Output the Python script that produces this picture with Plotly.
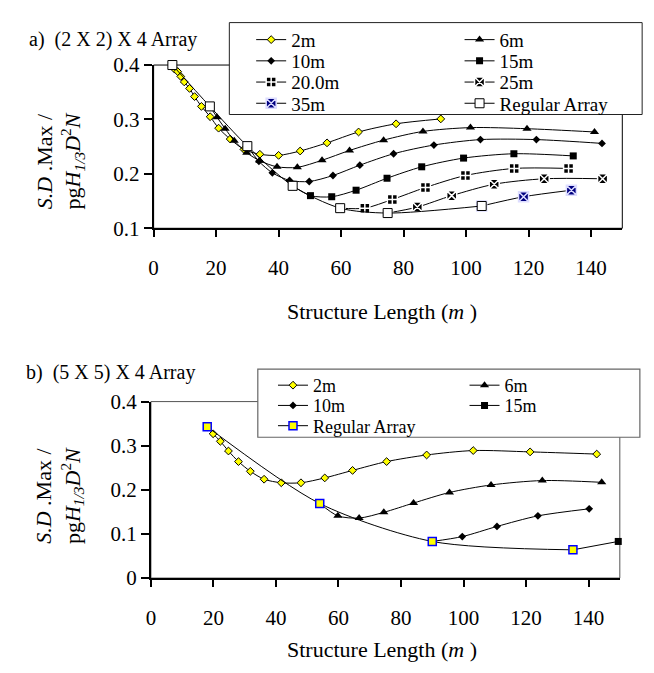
import plotly.graph_objects as go

W, H = 654, 673
FONT = "Liberation Serif"

# ---------------- data: a) (2 X 2) X 4 Array ----------------
A_2M_X = [6, 6.6, 7.7, 8.7, 9.8, 11.5, 13.1, 15.3, 18.1, 20.8, 24.5, 28.9, 34, 40, 46.9, 55.5, 65.6, 77.6, 91.9]
A_2M_Y = [0.4, 0.393, 0.388, 0.379, 0.369, 0.357, 0.342, 0.324, 0.305, 0.284, 0.264, 0.245, 0.236, 0.234, 0.242, 0.257, 0.277, 0.292, 0.301]
A_6M_X = [18, 20.3, 22.9, 25.8, 29.8, 34, 39.5, 46, 53.9, 62.7, 73.6, 86.2, 101.4, 119.5, 141.1]
A_6M_Y = [0.324, 0.304, 0.283, 0.261, 0.239, 0.224, 0.213, 0.212, 0.225, 0.243, 0.262, 0.278, 0.285, 0.283, 0.277]
A_10M_X = [30, 33.7, 38, 43.5, 49.8, 57.4, 66, 76.8, 89.7, 104.6, 122.5, 143.5]
A_10M_Y = [0.251, 0.223, 0.202, 0.188, 0.186, 0.197, 0.216, 0.237, 0.253, 0.263, 0.263, 0.256]
A_15M_X = [44.5, 50.2, 57, 64.8, 74.7, 85.8, 99.2, 115.3, 134.3]
A_15M_Y = [0.178, 0.160, 0.158, 0.170, 0.192, 0.213, 0.229, 0.237, 0.233]
A_20M_X = [59.7, 67.6, 76.4, 87, 99.8, 115.4, 132.8]
A_20M_Y = [0.137, 0.137, 0.153, 0.175, 0.197, 0.210, 0.210]
A_25M_X = [74.9, 84.4, 95.4, 109, 125, 143.7]
A_25M_Y = [0.128, 0.139, 0.160, 0.181, 0.191, 0.191]
A_35M_X = [105, 118.4, 133.7]
A_35M_Y = [0.141, 0.158, 0.170]
A_REG_X = [6, 18, 30, 44.5, 59.7, 74.9, 105]
A_REG_Y = [0.4, 0.324, 0.251, 0.178, 0.137, 0.128, 0.141]

# ---------------- data: b) (5 X 5) X 4 Array ----------------
B_2M_X = [18, 19.9, 22.2, 24.8, 28, 31.8, 36.2, 41.7, 48, 55.6, 64.5, 75.4, 88.2, 103.1, 121.3, 142.6]
B_2M_Y = [0.343, 0.327, 0.310, 0.288, 0.264, 0.242, 0.224, 0.216, 0.216, 0.227, 0.244, 0.264, 0.279, 0.289, 0.286, 0.281]
B_6M_X = [54, 59.8, 66.6, 74.5, 84, 95.5, 108.8, 125.2, 144.2]
B_6M_Y = [0.169, 0.141, 0.136, 0.149, 0.170, 0.194, 0.211, 0.221, 0.217]
B_10M_X = [90, 99.6, 110.7, 123.8, 140.2]
B_10M_Y = [0.083, 0.094, 0.117, 0.141, 0.157]
B_15M_X = [135, 149.5]
B_15M_Y = [0.064, 0.083]
B_REG_X = [18, 54, 90, 135]
B_REG_Y = [0.343, 0.169, 0.083, 0.064]

X_TICKS = [0, 20, 40, 60, 80, 100, 120, 140]
TITLE_A = "a)&nbsp; (2 X 2) X 4 Array"
TITLE_B = "b)&nbsp; (5 X 5) X 4 Array"
X_TITLE = "Structure Length (<i>m</i> )"
Y_TITLE = "<i>S.D</i> .Max /<br>pg<i>H</i><sub><i>1/3</i></sub><i>D</i><sup>2</sup><i>N</i>"


def px(v):
    return v / W


def py(v):
    return 1 - v / H


M_2M = dict(symbol="diamond", size=6, color="#FFFF00", line=dict(color="black", width=1))
M_6M = dict(symbol="triangle-up", size=8, color="black", line=dict(color="black", width=0))
M_10M = dict(symbol="diamond", size=6, color="black", line=dict(color="black", width=0))
M_15M = dict(symbol="square", size=7, color="black", line=dict(color="black", width=0))
M_20M = dict(symbol="square-cross", size=10, color="black", line=dict(color="white", width=1.5))
M_25M = dict(symbol="square-x", size=10, color="black", line=dict(color="white", width=1.5))
M_35M = dict(symbol="square-x", size=10, color="#000080", line=dict(color="#DDDDFF", width=1.5))
M_REG_A = dict(symbol="square", size=9, color="white", line=dict(color="black", width=1))
M_REG_B = dict(symbol="square", size=8, color="#FFFF00", line=dict(color="#0000FF", width=1.5))

# (name, x, y, marker, legend id, text x px, row y px, font size)
SER_A = [
    ("2m", A_2M_X, A_2M_Y, M_2M, "legend", 280, 20.5, 19),
    ("6m", A_6M_X, A_6M_Y, M_6M, "legend2", 490, 20.5, 19),
    ("10m", A_10M_X, A_10M_Y, M_10M, "legend3", 280, 42.5, 19),
    ("15m", A_15M_X, A_15M_Y, M_15M, "legend4", 490, 42.5, 19),
    ("20.0m", A_20M_X, A_20M_Y, M_20M, "legend5", 280, 64.5, 19),
    ("25m", A_25M_X, A_25M_Y, M_25M, "legend6", 490, 64.5, 19),
    ("35m", A_35M_X, A_35M_Y, M_35M, "legend7", 280, 86.5, 19),
    ("Regular Array", A_REG_X, A_REG_Y, M_REG_A, "legend8", 490, 86.5, 19),
]
SER_B = [
    ("2m", B_2M_X, B_2M_Y, M_2M, "legend9", 302, 379, 18),
    ("6m", B_6M_X, B_6M_Y, M_6M, "legend10", 495, 379, 18),
    ("10m", B_10M_X, B_10M_Y, M_10M, "legend11", 302, 400, 18),
    ("15m", B_15M_X, B_15M_Y, M_15M, "legend12", 495, 400, 18),
    ("Regular Array", B_REG_X, B_REG_Y, M_REG_B, "legend13", 302, 421, 18),
]

fig = go.Figure()
legends = {}
for series, xa, ya in ((SER_A, "x", "y"), (SER_B, "x2", "y2")):
    for name, xs, ys, mk, leg, tx, ty, fs in series:
        fig.add_trace(go.Scatter(
            x=xs, y=ys, name=name, mode="lines+markers",
            xaxis=xa, yaxis=ya, legend=leg, cliponaxis=False,
            line=dict(color="black", width=1, shape="spline", smoothing=0.8),
            marker=mk,
        ))
        legends[leg] = dict(
            x=px(tx - 40), y=py(ty), xanchor="left", yanchor="middle",
            bgcolor="rgba(0,0,0,0)", borderwidth=0, itemwidth=30,
            font=dict(family=FONT, size=fs, color="black"),
        )

axis_common = dict(
    showgrid=False, zeroline=False, showline=True, linecolor="black",
    ticks="outside", tickcolor="black", tickwidth=1.5,
    tickfont=dict(family=FONT, size=21, color="black"),
)

fig.update_layout(
    width=W, height=H,
    margin=dict(l=0, r=0, t=0, b=0),
    paper_bgcolor="white", plot_bgcolor="white",
    showlegend=True,
    xaxis=dict(domain=[px(141.7), px(614)], range=[0, 150], tickvals=X_TICKS,
               anchor="y", ticklen=7, linewidth=1.5, ticklabelstandoff=13, **axis_common),
    yaxis=dict(domain=[py(216), py(46.7)], range=[0.1, 0.4], dtick=0.1,
               anchor="x", ticklen=8, linewidth=2, **axis_common),
    xaxis2=dict(domain=[px(139), px(611.5)], range=[0, 150], tickvals=X_TICKS,
                anchor="y2", ticklen=7, linewidth=1.5, ticklabelstandoff=13, **axis_common),
    yaxis2=dict(domain=[py(578.7), py(395.7)], range=[0, 0.4], dtick=0.1,
                anchor="x2", ticklen=8, linewidth=2, **axis_common),
    **legends,
)

# plot-area borders
fig.add_shape(type="rect", xref="x domain", yref="y domain", x0=0, x1=1, y0=0, y1=1,
              line=dict(color="black", width=1), layer="below")
fig.add_shape(type="rect", xref="x2 domain", yref="y2 domain", x0=0, x1=1, y0=0, y1=1,
              line=dict(color="#555555", width=1), layer="below")
# legend boxes
fig.add_shape(type="rect", xref="paper", yref="paper", x0=px(218), x1=px(634), y0=py(98), y1=py(2.7),
              line=dict(color="#222222", width=1), fillcolor="white", layer="above")
fig.add_shape(type="rect", xref="paper", yref="paper", x0=px(246.7), x1=px(631.7), y0=py(432.7), y1=py(362),
              line=dict(color="#666666", width=1.2), fillcolor="white", layer="above")

ann_font = dict(family=FONT, size=20, color="black")
fig.add_annotation(text=TITLE_A, xref="paper", yref="paper", x=px(14), y=py(20),
                   xanchor="left", yanchor="middle", showarrow=False, font=ann_font)
fig.add_annotation(text=TITLE_B, xref="paper", yref="paper", x=px(11), y=py(366),
                   xanchor="left", yanchor="middle", showarrow=False, font=ann_font)
for yc in (302, 653):
    fig.add_annotation(text=X_TITLE, xref="paper", yref="paper", x=px(372), y=py(yc),
                       xanchor="center", yanchor="middle", showarrow=False,
                       font=dict(family=FONT, size=22, color="black"))
for yc in (146, 493):
    fig.add_annotation(text=Y_TITLE, xref="paper", yref="paper", x=px(47), y=py(yc),
                       xanchor="center", yanchor="middle", showarrow=False, textangle=-90,
                       font=dict(family=FONT, size=22, color="black"))

fig.write_html("out.html")
